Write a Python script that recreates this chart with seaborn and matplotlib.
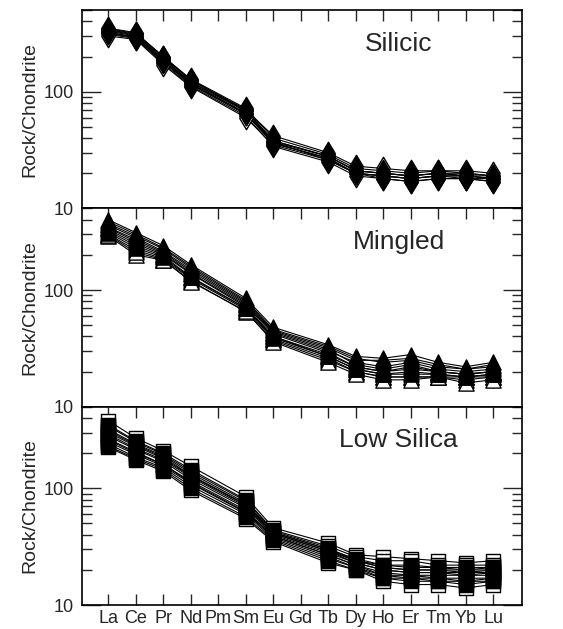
import numpy as np
import pandas as pd
import matplotlib
matplotlib.use("Agg")
import matplotlib.pyplot as plt
import seaborn as sns
from matplotlib.ticker import LogLocator, FixedFormatter, FixedLocator, NullFormatter

elements = ["La", "Ce", "Pr", "Nd", "Pm", "Sm", "Eu", "Gd", "Tb", "Dy", "Ho", "Er", "Tm", "Yb", "Lu"]
nan = np.nan

silicic = [
    [340, 310, 195, 125, nan, 70, 38, nan, 28, 21, 20, 19, 20, 19, 18],
    [320, 295, 185, 118, nan, 66, 36, nan, 27, 20, 19, 18, 19, 19, 18],
    [350, 320, 200, 128, nan, 72, 40, nan, 29, 22, 21, 20, 21, 20, 19],
    [310, 285, 175, 112, nan, 62, 34, nan, 25, 19, 18, 17, 18, 18, 17],
    [330, 300, 190, 120, nan, 68, 37, nan, 28, 21, 20, 19, 20, 20, 19],
    [300, 280, 170, 110, nan, 60, 35, nan, 26, 20, 19, 18, 19, 18, 18],
    [345, 315, 200, 126, nan, 70, 42, nan, 30, 23, 22, 21, 21, 21, 20],
    [325, 290, 180, 115, nan, 64, 36, nan, 27, 20, 18, 17, 18, 18, 17],
    [335, 305, 190, 122, nan, 69, 38, nan, 28, 21, 20, 19, 20, 19, 19],
    [315, 290, 182, 116, nan, 65, 37, nan, 26, 20, 19, 18, 19, 19, 18],
]

mingled = [
    [400, 310, 240, 165, nan, 85, 48, nan, 34, 27, 26, 28, 24, 22, 24],
    [370, 290, 225, 155, nan, 80, 45, nan, 32, 25, 25, 26, 23, 21, 22],
    [345, 270, 210, 145, nan, 76, 43, nan, 30, 24, 22, 24, 21, 20, 21],
    [330, 250, 200, 138, nan, 72, 40, nan, 28, 22, 20, 22, 20, 19, 20],
    [320, 240, 195, 130, nan, 70, 40, nan, 27, 21, 19, 19, 19, 18, 19],
    [300, 220, 185, 125, nan, 68, 38, nan, 26, 20, 18, 18, 18, 18, 18],
    [290, 200, 180, 120, nan, 65, 37, nan, 25, 20, 18, 18, 18, 17, 18],
    [310, 230, 190, 128, nan, 70, 39, nan, 27, 21, 19, 20, 19, 18, 19],
    [360, 280, 215, 150, nan, 78, 44, nan, 31, 23, 21, 23, 20, 19, 20],
    [295, 210, 182, 118, nan, 66, 36, nan, 24, 19, 17, 17, 18, 16, 17],
    [340, 260, 205, 140, nan, 74, 42, nan, 29, 22, 20, 21, 20, 19, 20],
    [385, 300, 230, 160, nan, 82, 46, nan, 33, 26, 24, 25, 22, 21, 23],
]

low_silica = [
    [380, 270, 210, 155, nan, 85, 46, nan, 34, 27, 26, 25, 24, 23, 24],
    [350, 255, 200, 145, nan, 80, 44, nan, 32, 26, 24, 24, 22, 22, 22],
    [320, 240, 190, 135, nan, 75, 42, nan, 30, 25, 22, 22, 21, 21, 21],
    [300, 230, 180, 128, nan, 72, 41, nan, 29, 24, 21, 20, 20, 20, 20],
    [280, 215, 170, 120, nan, 68, 40, nan, 28, 23, 20, 19, 19, 19, 19],
    [265, 205, 160, 115, nan, 65, 39, nan, 27, 22, 19, 18, 18, 18, 18],
    [250, 195, 155, 110, nan, 62, 38, nan, 26, 21, 18, 18, 17, 17, 17],
    [240, 185, 150, 105, nan, 60, 37, nan, 25, 21, 17, 17, 16, 16, 16],
    [230, 180, 145, 100, nan, 57, 36, nan, 24, 20, 17, 16, 16, 15, 16],
    [225, 175, 140, 96, nan, 55, 35, nan, 23, 20, 16, 15, 15, 14, 15],
    [340, 250, 195, 140, nan, 78, 43, nan, 31, 24, 22, 21, 21, 20, 21],
    [290, 220, 175, 125, nan, 70, 41, nan, 29, 23, 20, 19, 19, 18, 19],
    [260, 200, 160, 112, nan, 63, 39, nan, 27, 22, 18, 17, 17, 16, 17],
    [310, 235, 185, 130, nan, 73, 42, nan, 30, 24, 21, 20, 20, 19, 20],
]

groups = ["Silicic", "Mingled", "Low Silica"]
group_data = [silicic, mingled, low_silica]
# samples plotted with open symbols
group_open = [[3, 5, 6], [5, 6, 9], [0, 9, 1]]
group_markers = ["d", "^", "s"]
group_sizes = [130, 120, 115]


def to_long(samples):
    rows = []
    for i, vals in enumerate(samples):
        for j, v in enumerate(vals):
            rows.append({"sample": i, "pos": j, "element": elements[j], "value": v})
    return pd.DataFrame(rows)


sns.set_theme(style="white")
plt.rcParams["font.family"] = ["Liberation Sans", "DejaVu Sans"]

fig, axes = plt.subplots(3, 1, figsize=(5.63, 6.29), dpi=100, sharex=True)
fig.subplots_adjust(left=0.146, right=0.927, top=0.984, bottom=0.038, hspace=0)

for ax, name, samples, opn, mk, sz in zip(axes, groups, group_data, group_open,
                                          group_markers, group_sizes):
    df = to_long(samples)
    sns.lineplot(data=df, x="pos", y="value", units="sample", estimator=None,
                 color="black", linewidth=0.8, ax=ax, legend=False)
    d = df.dropna()
    # open symbols underneath, filled ones on top
    is_open = d["sample"].isin(opn)
    sns.scatterplot(data=d[is_open], x="pos", y="value", marker=mk, s=sz,
                    facecolor="white", edgecolor="black", linewidth=1.0, ax=ax,
                    legend=False, zorder=3)
    sns.scatterplot(data=d[~is_open], x="pos", y="value", marker=mk, s=sz,
                    facecolor="black", edgecolor="black", linewidth=1.0, ax=ax,
                    legend=False, zorder=4)

    ax.set_yscale("log")
    ax.set_ylim(10, 500)
    ax.set_xlim(-0.95, 15.05)
    ax.yaxis.set_major_locator(FixedLocator([10, 100]))
    ax.yaxis.set_major_formatter(FixedFormatter(["10", "100"]))
    ax.yaxis.set_minor_locator(LogLocator(base=10, subs=np.arange(2, 10)))
    ax.yaxis.set_minor_formatter(NullFormatter())
    ax.set_ylabel("Rock/Chondrite", fontsize=14)
    ax.set_xlabel("")
    ax.tick_params(axis="y", which="major", direction="in", length=14, width=1,
                   left=True, right=True, labelsize=13, pad=6)
    ax.tick_params(axis="y", which="minor", direction="in", length=7, width=1,
                   left=True, right=True)
    ax.tick_params(axis="x", which="major", direction="in", length=8, width=1,
                   top=True, bottom=(ax is axes[-1]), labelsize=13)
    for sp in ax.spines.values():
        sp.set_color("black")
        sp.set_linewidth(1.2)
    ax.text(0.72, 0.83, name, transform=ax.transAxes, fontsize=19, ha="center", va="center")

axes[-1].set_xticks(range(len(elements)))
axes[-1].set_xticklabels(elements)

fig.savefig("out.png", dpi=100)
